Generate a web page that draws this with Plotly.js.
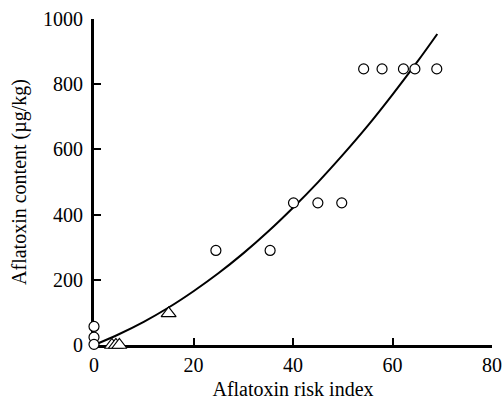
<!DOCTYPE html>
<html><head><meta charset="utf-8">
<script src="https://cdn.plot.ly/plotly-3.0.1.min.js"></script>
<style>html,body{margin:0;padding:0;background:#fff;}#chart{width:502px;height:406px;}</style>
</head><body><div id="chart"></div>
<script>
// Circles (observed samples)
var circleX = [0, 0, 0, 24.5, 35.4, 40.1, 45.0, 49.8, 54.2, 57.9, 62.2, 64.5, 68.9];
var circleY = [57, 24, 2, 290, 290, 436, 436, 436, 847, 847, 847, 847, 847];
// Triangles
var triX = [3.6, 4.4, 5.1, 15.0];
var triY = [0, 0, 0, 97];
// Fitted curve
var curveX = [0.5, 5, 10, 15, 20, 25, 30, 35, 40, 45, 50, 55, 60, 65, 69];
var curveY = [3, 33, 71, 115, 165, 220, 281, 348, 421, 499, 583, 672, 768, 869, 954];

var xTicks = [0, 20, 40, 60, 80];
var yTicks = [0, 200, 400, 600, 800, 1000];

var traces = [
  {x: curveX, y: curveY, mode: 'lines', line: {color: '#000', width: 2, shape: 'spline'}, hoverinfo: 'skip', cliponaxis: false},
  {x: circleX, y: circleY, mode: 'markers', cliponaxis: false,
   marker: {symbol: 'circle', size: 10, color: '#fff', line: {color: '#000', width: 1.2}}},
  {x: triX, y: triY, mode: 'markers', cliponaxis: false,
   marker: {symbol: 'triangle-up', size: 13, color: '#fff', line: {color: '#000', width: 1.2}}}
];

var layout = {
  width: 502, height: 406,
  margin: {l: 94, r: 10, t: 19, b: 60.5},
  paper_bgcolor: '#fff', plot_bgcolor: '#fff',
  showlegend: false,
  font: {family: 'Liberation Serif, Times New Roman, serif', size: 20, color: '#000'},
  xaxis: {
    range: [0, 80], tickvals: xTicks, ticktext: xTicks.map(String),
    showgrid: false, zeroline: false, showline: true, linecolor: '#000', linewidth: 3,
    ticks: 'inside', ticklen: 7, tickwidth: 2, tickcolor: '#000', layer: 'below traces',
    title: {text: 'Aflatoxin risk index', font: {size: 20}, standoff: 7}
  },
  yaxis: {
    range: [0, 1000], tickvals: yTicks, ticktext: yTicks.map(String),
    showgrid: false, zeroline: false, showline: true, linecolor: '#000', linewidth: 3,
    ticks: 'inside', ticklen: 7, tickwidth: 2, tickcolor: '#000', layer: 'below traces',
    ticklabelstandoff: 4,
    title: {text: 'Aflatoxin content (µg/kg)', font: {size: 20}, standoff: 12}
  }
};
Plotly.newPlot('chart', traces, layout, {displayModeBar: false, staticPlot: true});
</script></body></html>
